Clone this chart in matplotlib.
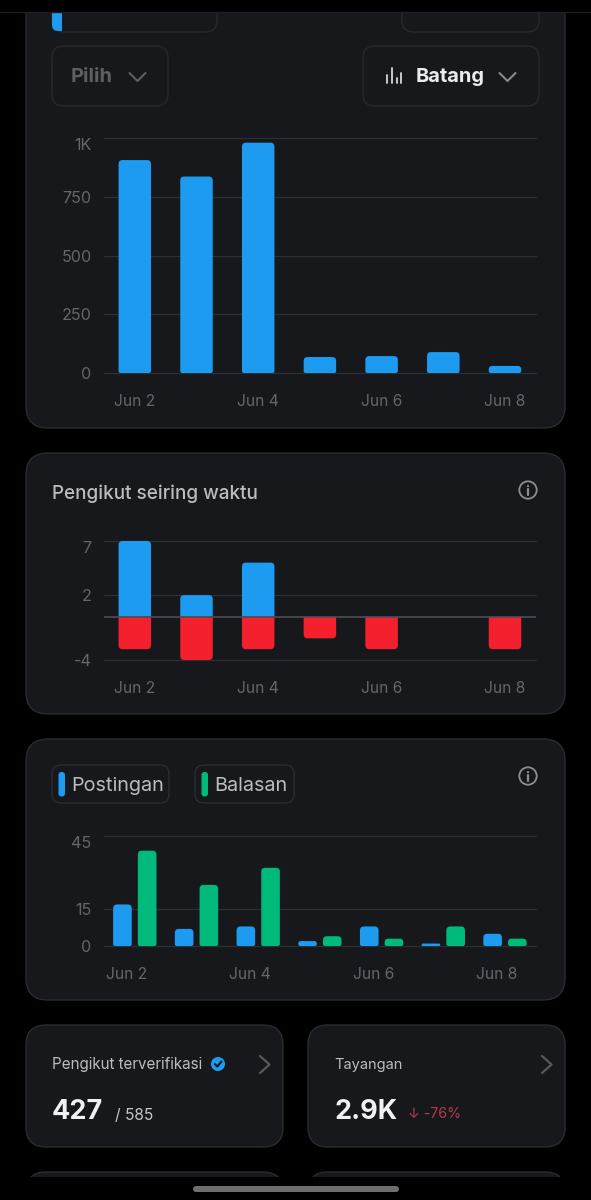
import matplotlib
matplotlib.use("Agg")
import matplotlib.pyplot as plt
from matplotlib.patches import Circle, FancyBboxPatch, PathPatch, Rectangle
from matplotlib.path import Path

plt.rcParams["font.family"] = ["Inter", "DejaVu Sans"]

# Data
positions = [0, 1, 2, 3, 4, 5, 6]
date_ticks = [0, 2, 4, 6]
date_labels = ["Jun 2", "Jun 4", "Jun 6", "Jun 8"]

impressions = [906, 836, 980, 68, 72, 89, 30]
impression_ticks = [0, 250, 500, 750, 1000]
impression_labels = ["0", "250", "500", "750", "1K"]

followers_gained = [7, 2, 5, 0, 0, 0, 0]
followers_lost = [-3, -4, -3, -2, -3, 0, -3]
follower_ticks = [-4, 2, 7]
follower_labels = ["-4", "2", "7"]

posts = [17, 7, 8, 2, 8, 1, 5]
replies = [39, 25, 32, 4, 3, 8, 3]
activity_ticks = [0, 15, 45]
activity_labels = ["0", "15", "45"]

# Colours
BLACK = "#000000"
CARD = "#16181c"
EDGE = "#292c30"
GRID = "#2c2f33"
ZERO = "#4b4e52"
TICK = "#63666a"
LABEL = "#b9bcc0"
WHITE = "#e9ebec"
BLUE = "#1d9bf0"
RED = "#f4202e"
GREEN = "#00ba7c"

W, H = 591, 1200
STEP = 61.7
CENTER0 = 134.8
LEFT, RIGHT = 104, 536

fig = plt.figure(figsize=(W / 100, H / 100), dpi=100, facecolor=BLACK)

# Overlay in pixel coordinates for the cards, buttons and captions
ui = fig.add_axes([0, 0, 1, 1], zorder=0)
ui.set_xlim(0, W)
ui.set_ylim(H, 0)
ui.axis("off")


def px(size):
    return size * 0.72


def box(x0, y0, x1, y1, r, face=CARD, edge=EDGE, lw=1.0, z=1):
    ui.add_patch(FancyBboxPatch((x0, y0), x1 - x0, y1 - y0,
                                boxstyle=f"round,pad=0,rounding_size={r}",
                                fc=face, ec=edge, lw=lw, zorder=z))


def label(x, y, s, size, color=LABEL, weight="normal", ha="left"):
    ui.text(x, y, s, fontsize=px(size), color=color, fontweight=weight,
            ha=ha, va="center", zorder=5)


def polyline(xs, ys, color, lw=1.6):
    ui.plot(xs, ys, color=color, lw=lw, solid_capstyle="round",
            solid_joinstyle="round", zorder=5)


def info_icon(cx, cy):
    ui.add_patch(Circle((cx, cy), 8.7, fc="none", ec="#8b8e92", lw=1.3, zorder=5))
    polyline([cx, cx], [cy - 1, cy + 4.5], "#8b8e92", 1.6)
    ui.add_patch(Circle((cx, cy - 4), 1.1, fc="#8b8e92", ec="none", zorder=5))


def rounded_bar(ax, x, width, base, value, color, r_top=4.0, r_base=2.0):
    # Bar with the corner radius given in pixels, whatever the axis scales are
    if value == 0:
        return
    bbox = ax.get_window_extent()
    x0, x1 = ax.get_xlim()
    y0, y1 = ax.get_ylim()
    rx = (x1 - x0) / bbox.width
    ry = (y1 - y0) / bbox.height
    sign = 1 if value > base else -1
    height = abs(value - base) / ry
    r_top = min(r_top, height / 2)
    r_base = min(r_base, height / 2)
    left, right = x - width / 2, x + width / 2
    tx, ty = r_top * rx, r_top * ry * sign
    bx, by = r_base * rx, r_base * ry * sign
    verts = [(left + bx, base), (left, base), (left, base + by),
             (left, value - ty), (left, value), (left + tx, value),
             (right - tx, value), (right, value), (right, value - ty),
             (right, base + by), (right, base), (right - bx, base),
             (left + bx, base)]
    codes = [Path.MOVETO, Path.CURVE3, Path.CURVE3,
             Path.LINETO, Path.CURVE3, Path.CURVE3,
             Path.LINETO, Path.CURVE3, Path.CURVE3,
             Path.LINETO, Path.CURVE3, Path.CURVE3,
             Path.CLOSEPOLY]
    ax.add_patch(PathPatch(Path(verts, codes), fc=color, ec="none", zorder=3))


def chart_axes(top, bottom, ymin, ymax, yticks, ylabels, xshift=0.0):
    ax = fig.add_axes([LEFT / W, 1 - bottom / H, (RIGHT - LEFT) / W, (bottom - top) / H],
                      zorder=2)
    ax.patch.set_alpha(0)
    ax.set_xlim((LEFT - CENTER0) / STEP, (RIGHT - CENTER0) / STEP)
    ax.set_ylim(ymin, ymax)
    for side in ax.spines.values():
        side.set_visible(False)
    ax.set_yticks(yticks)
    ax.set_yticklabels(ylabels)
    ax.set_xticks([t + xshift for t in date_ticks])
    ax.set_xticklabels(date_labels)
    ax.tick_params(axis="y", length=0, pad=px(12.3), labelsize=px(16.2), labelcolor=TICK)
    ax.tick_params(axis="x", length=0, pad=px(21), labelsize=px(15.6), labelcolor=TICK)
    for t in ax.get_yticklabels():
        if t.get_text() == ylabels[-1]:
            t.set_va("top")
            t.set_y(t.get_position()[1])
    for t in yticks:
        ax.axhline(t, color=GRID, lw=0.9, zorder=1, clip_on=False)
    return ax


# Cards
box(26, -30, 565, 428, 22)
box(26, 453, 565, 714, 22)
box(26, 739, 565, 1000, 22)
box(26, 1025, 283, 1147, 20)
box(308, 1025, 565, 1147, 20)
box(26, 1172, 283, 1260, 20)
box(308, 1172, 565, 1260, 20)

# Buttons above the first chart
box(52, -20, 217, 32, 12, edge="#25282c")
box(402, -20, 539, 32, 12, edge="#25282c")
ui.add_patch(FancyBboxPatch((52, -10), 10, 41, boxstyle="round,pad=0,rounding_size=6",
                            fc=BLUE, ec="none", zorder=2))
ui.add_patch(Rectangle((58, 0), 4, 31, fc=BLUE, ec="none", zorder=2))
box(52, 46, 168, 106, 12, edge="#25282c")
box(363, 46, 539, 106, 12, edge="#25282c")
label(71, 77, "Pilih", 20, "#5c5f63", "bold")
polyline([129.5, 137.5, 145.5], [73, 81, 73], "#5c5f63", 1.5)
for bx, by in zip([387, 392, 396.5, 401], [75, 68, 78, 73]):
    polyline([bx, bx], [by, 83], "#d5d7d9", 1.3)
label(416, 77, "Batang", 20, WHITE, "bold")
polyline([499.5, 507.5, 515.5], [73, 81, 73], "#85888c", 1.5)

# Captions for the second and third cards
label(52, 494, "Pengikut seiring waktu", 18.9, LABEL, "medium")
info_icon(528, 490)
info_icon(528, 776)

box(52, 765, 169, 803, 9, edge="#2a2d31", z=2)
box(195, 765, 294, 803, 9, edge="#2a2d31", z=2)
box(58.5, 772, 65, 796.5, 3.2, face=BLUE, edge="none", z=3)
box(201.5, 772, 208, 796.5, 3.2, face=GREEN, edge="none", z=3)
label(71, 786, "Postingan", 19.8)
label(214, 786, "Balasan", 19.8)

# Stat cards
label(52, 1065, "Pengikut terverifikasi", 15.2)
ui.add_patch(Circle((218, 1064), 7, fc=BLUE, ec="none", zorder=5))
polyline([214.8, 217.3, 221.5], [1064, 1066.6, 1061.5], "#16181d", 1.5)
polyline([260, 269.5, 260], [1056, 1064.5, 1073], "#55585c", 1.6)
label(52, 1112, "427", 27, "#f0f1f2", "bold")
label(115, 1115, "/ 585", 15.5, "#c4c6c9")

label(334, 1065, "Tayangan", 14.6)
polyline([542, 551.5, 542], [1056, 1064.5, 1073], "#55585c", 1.6)
label(334, 1112, "2.9K", 27, "#f0f1f2", "bold")
label(408, 1114, "↓ -76%", 14.2, "#b83a50")

# Screen edges and the home indicator
ui.add_patch(Rectangle((0, 0), W, 12, fc=BLACK, ec="none", zorder=4))
ui.plot([0, W], [12, 12], color="#1d1e21", lw=1, zorder=4)
ui.add_patch(Rectangle((0, 1177), W, 23, fc=BLACK, ec="none", zorder=4))
box(193, 1186, 399, 1192, 3, face="#6e6e6e", edge="none", z=5)

# Impressions per day
ax1 = chart_axes(138, 373, 0, 1000, impression_ticks, impression_labels)
for x, v in zip(positions, impressions):
    rounded_bar(ax1, x, 32.5 / STEP, 0, v, BLUE)

# Followers gained and lost
ax2 = chart_axes(541, 660, -4, 7, follower_ticks, follower_labels)
ax2.axhline(0, color=ZERO, lw=1.2, zorder=4)
for x, up, down in zip(positions, followers_gained, followers_lost):
    rounded_bar(ax2, x, 32.5 / STEP, 0, up, BLUE, r_base=0)
    rounded_bar(ax2, x, 32.5 / STEP, 0, down, RED, r_base=0)

# Posts and replies side by side
ax3 = chart_axes(836, 946, 0, 45, activity_ticks, activity_labels, xshift=-8 / STEP)
offset = 12.35 / STEP
for x, p, r in zip(positions, posts, replies):
    rounded_bar(ax3, x - offset, 18.6 / STEP, 0, p, BLUE)
    rounded_bar(ax3, x + offset, 18.6 / STEP, 0, r, GREEN)

fig.savefig("out.png", dpi=100, facecolor=BLACK)
